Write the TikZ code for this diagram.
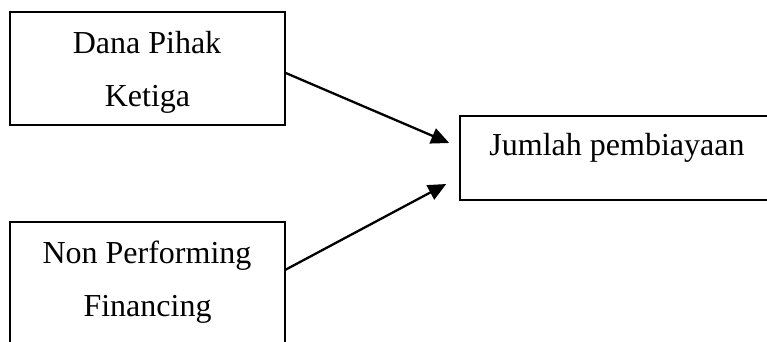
\documentclass[tikz,border=0pt]{standalone}
\usepackage{fontspec}
\setmainfont{Liberation Serif}
\usetikzlibrary{arrows.meta}
\begin{document}
\begin{tikzpicture}[x=1pt,y=-1pt,
  box/.style={draw,line width=1.6pt,rectangle,inner sep=0pt},
  label/.style={anchor=base,inner sep=0pt,font=\fontsize{32}{40}\selectfont},
  link/.style={line width=2.3pt,-{Triangle[length=18pt,width=16pt]}}]
\clip (0,0) rectangle (767,341);
% boxes
\node[box,minimum width=275pt,minimum height=113pt] (dpk) at (147.5,68.5) {};
\node[box,minimum width=275pt,minimum height=150pt] (npf) at (147.5,297) {};
\node[box,minimum width=320pt,minimum height=84pt] (jp) at (620,158) {};
% texts
\node[label] (t1) at (147,53) {Dana Pihak};
\node[label] (t2) at (147.5,106) {Ketiga};
\node[label] (t3) at (147,263) {Non Performing};
\node[label] (t4) at (147.5,316) {Financing};
\node[label] (t5) at (617,155) {Jumlah pembiayaan};
% arrows
\coordinate (a1) at ([yshift=-4.5pt]dpk.east);
\coordinate (a2) at (285,270);
\coordinate (e1) at ([xshift=-10pt,yshift=15pt]jp.west);
\coordinate (e2) at ([xshift=-13pt,yshift=-26pt]jp.west);
\draw[link] (a1) -- (e1);
\draw[link] (a2) -- (e2);
\end{tikzpicture}
\end{document}
